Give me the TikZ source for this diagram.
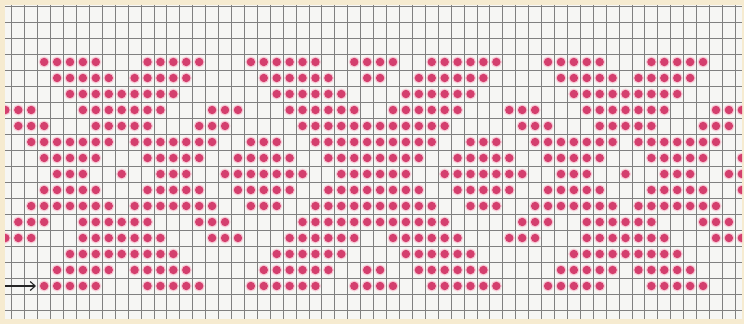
\documentclass[tikz,border=0pt]{standalone}
\usepackage{xcolor}
\usetikzlibrary{arrows.meta}
\definecolor{beige}{HTML}{F6EBD0}
\definecolor{paper}{HTML}{F6F6F4}
\definecolor{gridc}{HTML}{808080}
\definecolor{dotc}{HTML}{D43F6E}
\definecolor{haloc}{HTML}{F8CBD7}
\tikzset{
  gridl/.style={draw=gridc, line width=0.9pt},
  halostyle/.style={fill=haloc},
  dotstyle/.style={fill=dotc},
  arrowline/.style={draw=black!85, line width=1.1pt, -{Straight Barb[length=5pt,width=9pt]}}
}
\newcommand\dotrow[2]{%
  \foreach \a/\b in {#2}{%
    \foreach \c in {\a,...,\b}{%
      \fill[halostyle] ({5.4+12.92*\c},{14+16*#1}) circle[radius=5.5pt];
      \fill[dotstyle] ({5.4+12.92*\c},{14+16*#1}) circle[radius=4.2pt];
    }%
  }%
}
\begin{document}
\begin{tikzpicture}[x=1pt,y=-1pt]
\fill[beige] (0,0) rectangle (744,324);
\useasboundingbox (0,0) rectangle (744,324);
\fill[paper] (5,5) rectangle (742,319);
\begin{scope}
\clip (5,5) rectangle (742,319);
\foreach \k in {1,...,57}{\draw[gridl] ({-1.06+12.92*\k},5) -- ({-1.06+12.92*\k},319);}
\foreach \k in {0,...,19}{\draw[gridl] (5,{6+16*\k}) -- (742,{6+16*\k});}
\dotrow{3}{3/7,11/15,19/24,27/30,33/38,42/46,50/54}
\dotrow{4}{4/8,10/14,20/25,28/29,32/37,43/47,49/53}
\dotrow{5}{5/13,21/26,31/36,44/52}
\dotrow{6}{0/2,6/12,16/18,22/27,30/35,39/41,45/51,55/57}
\dotrow{7}{1/3,7/11,15/17,23/34,40/42,46/50,54/56}
\dotrow{8}{2/8,10/16,19/21,24/33,36/38,41/47,49/55}
\dotrow{9}{3/7,11/15,18/22,25/32,35/39,42/46,50/54,57/57}
\dotrow{10}{4/6,9/9,12/14,17/23,26/31,34/40,43/45,48/48,51/53,56/57}
\dotrow{11}{3/7,11/15,18/22,25/32,35/39,42/46,50/54,57/57}
\dotrow{12}{2/8,10/16,19/21,24/33,36/38,41/47,49/55}
\dotrow{13}{1/3,6/11,15/17,23/34,40/42,45/50,54/56}
\dotrow{14}{0/2,6/12,16/18,22/27,30/35,39/41,45/51,55/57}
\dotrow{15}{5/13,21/26,31/36,44/52}
\dotrow{16}{4/8,10/14,20/25,28/29,32/37,43/47,49/53}
\dotrow{17}{3/7,11/15,19/24,27/30,33/38,42/46,50/54}
\end{scope}
\coordinate (arrS) at (5,286);
\coordinate (arrE) at (36,286);
\draw[arrowline] (arrS) -- (arrE);
\end{tikzpicture}
\end{document}
